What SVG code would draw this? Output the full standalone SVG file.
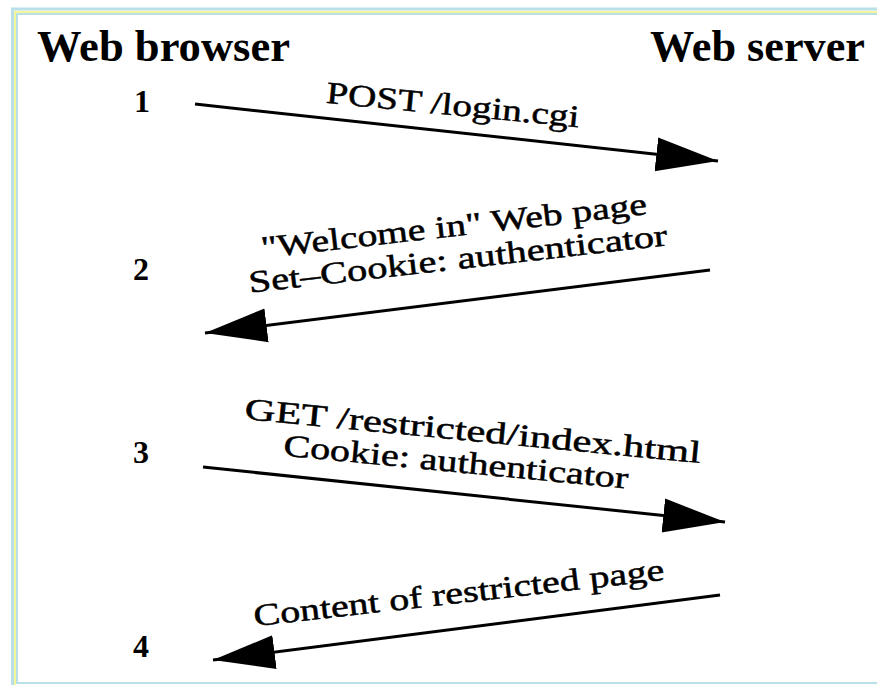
<svg xmlns="http://www.w3.org/2000/svg" width="877" height="685" viewBox="0 0 877 685">
<style>
.h{font-family:"Liberation Serif","Times New Roman",serif;font-weight:bold;font-size:44px;fill:#000}
.n{font-family:"Liberation Serif","Times New Roman",serif;font-weight:bold;font-size:32px;fill:#000}
.l{font-family:"Liberation Serif","Times New Roman",serif;font-size:31px;fill:#000;stroke:#000;stroke-width:0.5;text-anchor:middle}
.ln{stroke:#000;stroke-width:3;fill:none}
</style>
<defs>
<marker id="ah" markerWidth="62" markerHeight="38" refX="62" refY="19" orient="auto" markerUnits="userSpaceOnUse">
<polygon points="0,2 62,19 0,36" fill="#000"/>
</marker>
</defs>
<rect x="0" y="0" width="877" height="685" fill="#fff"/>
<g id="frame" fill="none">
<rect x="12.5" y="9" width="880" height="700" stroke="#b8e0e6" stroke-width="3"/>
<rect x="15" y="12" width="880" height="700" stroke="#f2f27a" stroke-width="1.5"/>
<rect x="17" y="14" width="880" height="669" stroke="#b8e0e6" stroke-width="2"/>
</g>
<g id="browser"><text class="h" x="37" y="61" textLength="253" lengthAdjust="spacingAndGlyphs">Web browser</text></g>
<g id="server"><text class="h" x="650" y="61" textLength="215" lengthAdjust="spacingAndGlyphs">Web server</text></g>
<g id="step1"><text class="n" x="134" y="112">1</text></g>
<g id="step2"><text class="n" x="133" y="280">2</text></g>
<g id="step3"><text class="n" x="133" y="463">3</text></g>
<g id="step4"><text class="n" x="133" y="657">4</text></g>
<g id="connectors">
<line class="ln" x1="195" y1="104" x2="718" y2="161" marker-end="url(#ah)"/>
<line class="ln" x1="710" y1="270" x2="205" y2="333" marker-end="url(#ah)"/>
<line class="ln" x1="203" y1="467" x2="725" y2="522" marker-end="url(#ah)"/>
<line class="ln" x1="720" y1="595" x2="213" y2="660" marker-end="url(#ah)"/>
</g>
<g id="labels">
<text class="l" transform="translate(452,115) rotate(5.5)" textLength="254" lengthAdjust="spacingAndGlyphs">POST /login.cgi</text>
<text class="l" transform="translate(455,236) rotate(-6.5)" textLength="388" lengthAdjust="spacingAndGlyphs">"Welcome in" Web page</text>
<text class="l" transform="translate(459,269) rotate(-6.5)" textLength="421" lengthAdjust="spacingAndGlyphs">Set–Cookie: authenticator</text>
<text class="l" transform="translate(472,441) rotate(5.5)" textLength="458" lengthAdjust="spacingAndGlyphs">GET /restricted/index.html</text>
<text class="l" transform="translate(455,472) rotate(5.5)" textLength="346" lengthAdjust="spacingAndGlyphs">Cookie: authenticator</text>
<text class="l" transform="translate(460,603) rotate(-6.5)" textLength="413" lengthAdjust="spacingAndGlyphs">Content of restricted page</text>
</g>
</svg>
